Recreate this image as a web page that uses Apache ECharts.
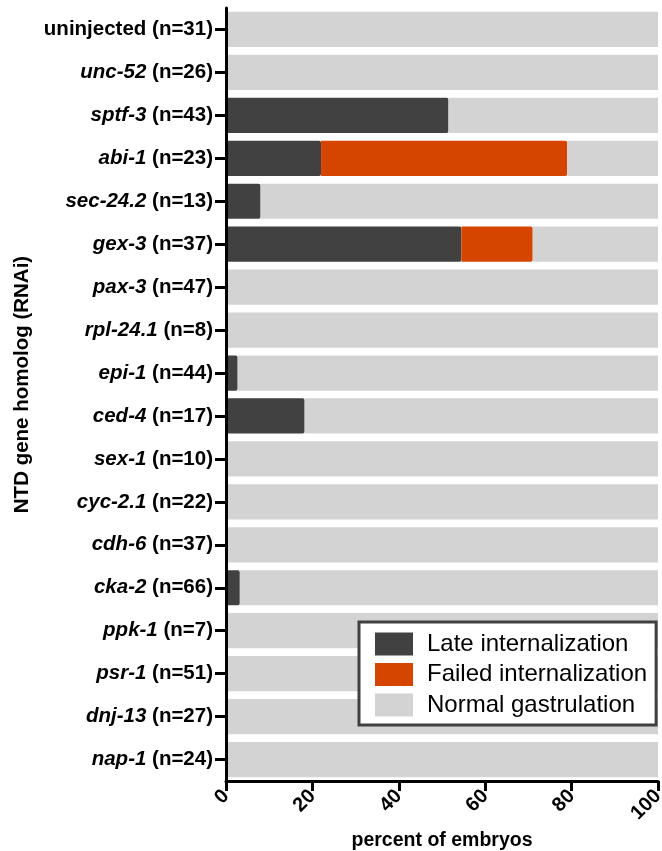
<!DOCTYPE html>
<html>
<head>
<meta charset="utf-8">
<script src="https://cdn.jsdelivr.net/npm/echarts@6/dist/echarts.min.js"></script>
<style>
html,body{margin:0;padding:0;background:#fff;}
#chart{width:662px;height:851px;}
</style>
</head>
<body>
<div id="chart"></div>
<script>
var genes = ['uninjected','unc-52','sptf-3','abi-1','sec-24.2','gex-3','pax-3','rpl-24.1','epi-1','ced-4','sex-1','cyc-2.1','cdh-6','cka-2','ppk-1','psr-1','dnj-13','nap-1'];
var nCounts = [31,26,43,23,13,37,47,8,44,17,10,22,37,66,7,51,27,24];
var lateInternalization   = [0,0,51.5,22,8,54.5,0,0,2.7,18.2,0,0,0,3.2,0,0,0,0];
var failedInternalization = [0,0,0,57,0,16.5,0,0,0,0,0,0,0,0,0,0,0,0];
var normalGastrulation    = [100,100,48.5,21,92,29,100,100,97.3,81.8,100,100,100,96.8,100,100,100,100];
var xTicks = [0,20,40,60,80,100];

var categories = genes.map(function(g,i){ return g + '|' + nCounts[i]; });
var FONT = '"Liberation Sans", Arial, Helvetica, sans-serif';

var chart = echarts.init(document.getElementById('chart'));
var barBase = {type:'bar', stack:'total', barCategoryGap:'18%'};
chart.setOption({
  animation:false,
  backgroundColor:'#ffffff',
  textStyle:{fontFamily:FONT},
  grid:{left:226, right:4, top:8, bottom:70, containLabel:false, outerBoundsMode:'none'},
  legend:{
    orient:'vertical', left:359, top:622,
    icon:'rect', itemWidth:38, itemHeight:23, itemGap:6.5,
    padding:[10,9,8,16],
    borderColor:'#404040', borderWidth:3, borderRadius:0,
    backgroundColor:'#ffffff',
    textStyle:{fontFamily:FONT, fontSize:24, color:'#000', lineHeight:24, padding:[0,0,0,9]},
    data:['Late internalization','Failed internalization','Normal gastrulation']
  },
  xAxis:{
    type:'value', min:0, max:100, interval:20, z:10,
    name:'percent of embryos', nameLocation:'middle', nameGap:47,
    nameTextStyle:{fontFamily:FONT, fontSize:19.5, fontWeight:'bold', color:'#000'},
    axisLine:{show:true, lineStyle:{color:'#000', width:3}},
    axisTick:{show:true, length:10, lineStyle:{color:'#000', width:3}},
    splitLine:{show:false},
    axisLabel:{rotate:45, margin:12, fontFamily:FONT, fontSize:20, fontWeight:'bold', color:'#000',
      formatter:function(v){ return xTicks.indexOf(v) >= 0 ? String(v) : ''; }}
  },
  yAxis:{
    type:'category', inverse:true, data:categories, z:10,
    name:'NTD gene homolog (RNAi)', nameLocation:'middle', nameGap:192, nameRotate:90,
    nameTextStyle:{fontFamily:FONT, fontSize:20.5, fontWeight:'bold', color:'#000', padding:[0,0,0,20]},
    axisLine:{show:true, lineStyle:{color:'#000', width:3}},
    axisTick:{show:true, length:11, alignWithLabel:true, lineStyle:{color:'#000', width:3}},
    axisLabel:{margin:13, fontFamily:FONT, color:'#000',
      formatter:function(v){
        var p = v.split('|');
        if (p[0] === 'uninjected') return '{n|' + p[0] + ' (n=' + p[1] + ')}';
        return '{g|' + p[0] + '}{n| (n=' + p[1] + ')}';
      },
      rich:{
        g:{fontFamily:FONT, fontSize:20.5, fontWeight:'bold', fontStyle:'italic', color:'#000'},
        n:{fontFamily:FONT, fontSize:20.5, fontWeight:'bold', color:'#000'}
      }
    }
  },
  series:[
    Object.assign({}, barBase, {name:'Late internalization', data:lateInternalization,
      itemStyle:{color:'#414141', borderRadius:[0,2,2,0]}}),
    Object.assign({}, barBase, {name:'Failed internalization', data:failedInternalization,
      itemStyle:{color:'#d64500', borderRadius:[0,2,2,0]}}),
    Object.assign({}, barBase, {name:'Normal gastrulation', data:normalGastrulation,
      itemStyle:{color:'#d3d3d3', borderRadius:0}})
  ]
});
</script>
</body>
</html>
